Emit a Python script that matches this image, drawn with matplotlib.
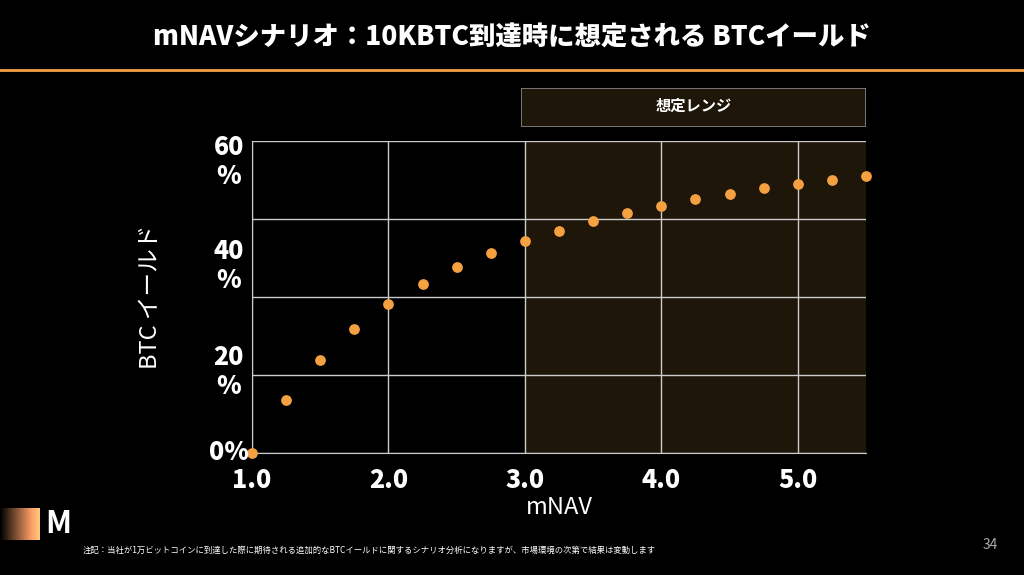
import numpy as np
import matplotlib.pyplot as plt
from matplotlib.patches import Rectangle

plt.rcParams['font.family'] = ['Noto Sans CJK JP', 'DejaVu Sans']

mnav = [1.0, 1.25, 1.5, 1.75, 2.0, 2.25, 2.5, 2.75, 3.0, 3.25, 3.5, 3.75,
        4.0, 4.25, 4.5, 4.75, 5.0, 5.25, 5.5]
btc_yield = [0.0, 10.2, 17.9, 23.8, 28.7, 32.5, 35.8, 38.5, 40.8, 42.7, 44.6,
             46.2, 47.5, 48.8, 49.8, 50.9, 51.7, 52.5, 53.3]
y_labels = [0, 20, 40, 60]
x_ticks = [1.0, 2.0, 3.0, 4.0, 5.0]

orange = '#f5a142'
fig = plt.figure(figsize=(10.24, 5.75), dpi=100, facecolor='black')

fig.text(0.5, 0.935, 'mNAVシナリオ：10KBTC到達時に想定される BTCイールド', color='white',
         fontsize=19, fontweight='heavy', ha='center', va='center')
fig.add_artist(plt.Line2D([0, 1], [0.878, 0.878], color=orange, lw=2))

ax = fig.add_axes([252/1024, 1-453/575, (866-252)/1024, (453-141)/575])
ax.set_facecolor('black')
ax.axvspan(3.0, 5.5, color='#1e1609', zorder=0)
ax.scatter(mnav, btc_yield, s=45, color=orange, zorder=3, clip_on=False)
ax.set_xlim(1.0, 5.5)
ax.set_ylim(0, 60)
ax.set_xticks(x_ticks)
ax.set_xticklabels([f'{v:.1f}' for v in x_ticks], color='white', fontsize=18, fontweight='heavy')
ax.set_yticks([0, 15, 30, 45, 60])
ax.set_yticklabels([])
ax.tick_params(length=0, pad=10)
ax.grid(True, color='#cccccc', lw=1)
for s in ax.spines.values():
    s.set_visible(False)
ax.spines['left'].set_visible(True)
ax.spines['left'].set_color('#cccccc')
ax.spines['bottom'].set_visible(True)
ax.spines['bottom'].set_color('#cccccc')

label_pos = {0: 0.2, 20: 15.6, 40: 36.0, 60: 56.0}
for v in y_labels:
    ax.text(0.83, label_pos[v], f'{v}%' if v == 0 else f'{v}\n%', color='white', fontsize=18,
            fontweight='heavy', ha='center', va='center', linespacing=1.15)
ax.set_xlabel('mNAV', color='white', fontsize=17, style='italic', labelpad=2)
ax.set_ylabel('BTC イールド', color='white', fontsize=17, style='italic', labelpad=55)

bx = fig.add_axes([521/1024, 1-127/575, (866-521)/1024, 39/575])
bx.set_xlim(0, 1); bx.set_ylim(0, 1); bx.axis('off')
bx.add_patch(Rectangle((0, 0), 1, 1, facecolor='#1e1609', edgecolor='#888888', lw=1.2))
bx.text(0.5, 0.55, '想定レンジ', color='white', fontsize=11, fontweight='bold', ha='center', va='center')

lg = fig.add_axes([0, 1-540/575, 40/1024, 32/575])
lg.imshow(np.linspace(0, 1, 50)[None, :], cmap='copper', aspect='auto')
lg.axis('off')
fig.text(58/1024, 1-524/575, 'M', color='white', fontsize=22, fontweight='bold', ha='center', va='center')

fig.text(83/1024, 1-550/575, '注記：当社が1万ビットコインに到達した際に期待される追加的なBTCイールドに関するシナリオ分析になりますが、市場環境の次第で結果は変動します',
         color='white', fontsize=6, ha='left', va='center')
fig.text(990/1024, 1-545/575, '34', color='#aaaaaa', fontsize=10, ha='center', va='center')

fig.savefig('out.png', dpi=100, facecolor='black')
